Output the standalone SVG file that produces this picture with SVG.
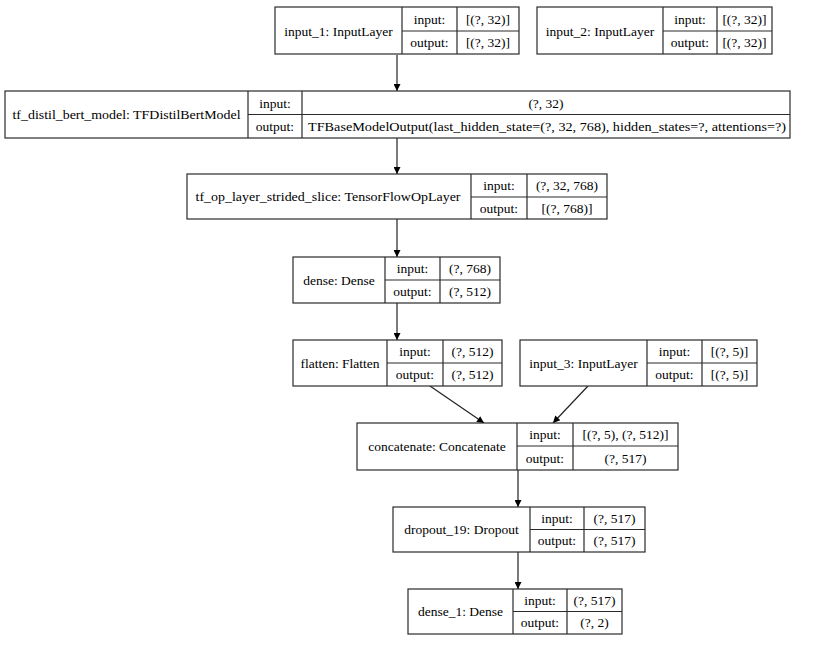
<svg xmlns="http://www.w3.org/2000/svg" width="829" height="650" viewBox="0 0 829 650">
<style>
.b{fill:#fff;stroke:#2a2a2a;stroke-width:1.2}
.l{stroke:#2a2a2a;stroke-width:1.2;fill:none}
text{font-family:"Liberation Serif","Times New Roman",serif;font-size:13.5px;fill:#000;text-anchor:middle}
.e{stroke:#222;stroke-width:1.2;fill:none;marker-end:url(#ah)}
</style>
<defs>
<marker id="ah" viewBox="0 0 10 10" refX="10" refY="5" markerWidth="10" markerHeight="7" markerUnits="userSpaceOnUse" orient="auto">
<path d="M0,0 L10,5 L0,10 z" fill="#000"/>
</marker>
</defs>
<rect width="829" height="650" fill="#fff"/>
<g id="edges">
<line class="e" x1="397" y1="55" x2="397" y2="91"/>
<line class="e" x1="397" y1="138" x2="397" y2="174"/>
<line class="e" x1="397" y1="219" x2="397" y2="257"/>
<line class="e" x1="397" y1="303" x2="397" y2="340"/>
<line class="e" x1="430" y1="386" x2="484" y2="423"/>
<line class="e" x1="588" y1="386" x2="553" y2="423"/>
<line class="e" x1="518" y1="470" x2="518" y2="507"/>
<line class="e" x1="518" y1="552" x2="518" y2="589"/>
</g>
<g id="input_1">
<rect class="b" x="275" y="7" width="244" height="47"/>
<path class="l" d="M402,7V54M457,7V54M402,31H519"/>
<text x="338.5" y="35.5">input_1: InputLayer</text>
<text x="429.5" y="23.5">input:</text>
<text x="429.5" y="47">output:</text>
<text x="488" y="23.5">[(?, 32)]</text>
<text x="488" y="47">[(?, 32)]</text>
</g>
<g id="input_2">
<rect class="b" x="537" y="7" width="235" height="47"/>
<path class="l" d="M663,7V54M717,7V54M663,31H772"/>
<text x="600" y="35.5">input_2: InputLayer</text>
<text x="690" y="23.5">input:</text>
<text x="690" y="47">output:</text>
<text x="744.5" y="23.5">[(?, 32)]</text>
<text x="744.5" y="47">[(?, 32)]</text>
</g>
<g id="tf_distil_bert_model">
<rect class="b" x="5" y="91" width="785" height="47"/>
<path class="l" d="M248,91V138M302,91V138M248,114.5H790"/>
<text x="126.5" y="119" textLength="228" lengthAdjust="spacingAndGlyphs">tf_distil_bert_model: TFDistilBertModel</text>
<text x="275" y="107.5">input:</text>
<text x="275" y="131">output:</text>
<text x="546" y="107.5">(?, 32)</text>
<text x="547" y="131" textLength="478" lengthAdjust="spacingAndGlyphs">TFBaseModelOutput(last_hidden_state=(?, 32, 768), hidden_states=?, attentions=?)</text>
</g>
<g id="tf_op_layer_strided_slice">
<rect class="b" x="187" y="174" width="420" height="45"/>
<path class="l" d="M471,174V219M527,174V219M471,197H607"/>
<text x="328" y="201" textLength="265" lengthAdjust="spacingAndGlyphs">tf_op_layer_strided_slice: TensorFlowOpLayer</text>
<text x="499" y="190">input:</text>
<text x="499" y="212.5">output:</text>
<text x="567" y="190">(?, 32, 768)</text>
<text x="567" y="212.5">[(?, 768)]</text>
</g>
<g id="dense">
<rect class="b" x="293" y="257" width="207" height="46"/>
<path class="l" d="M385,257V303M440,257V303M385,280H500"/>
<text x="339" y="284.5">dense: Dense</text>
<text x="412.5" y="273">input:</text>
<text x="412.5" y="296">output:</text>
<text x="470" y="273">(?, 768)</text>
<text x="470" y="296">(?, 512)</text>
</g>
<g id="flatten">
<rect class="b" x="293" y="340" width="209" height="46"/>
<path class="l" d="M387,340V386M443,340V386M387,363H502"/>
<text x="340" y="367.5">flatten: Flatten</text>
<text x="415" y="356">input:</text>
<text x="415" y="379">output:</text>
<text x="472.5" y="356">(?, 512)</text>
<text x="472.5" y="379">(?, 512)</text>
</g>
<g id="input_3">
<rect class="b" x="520" y="340" width="237" height="46"/>
<path class="l" d="M647,340V386M702,340V386M647,363H757"/>
<text x="583.5" y="367.5">input_3: InputLayer</text>
<text x="674.5" y="356">input:</text>
<text x="674.5" y="379">output:</text>
<text x="729.5" y="356">[(?, 5)]</text>
<text x="729.5" y="379">[(?, 5)]</text>
</g>
<g id="concatenate">
<rect class="b" x="357" y="423" width="321" height="47"/>
<path class="l" d="M517,423V470M573,423V470M517,446H678"/>
<text x="437" y="450.5">concatenate: Concatenate</text>
<text x="545" y="439">input:</text>
<text x="545" y="462.5">output:</text>
<text x="625.5" y="439">[(?, 5), (?, 512)]</text>
<text x="625.5" y="462.5">(?, 517)</text>
</g>
<g id="dropout_19">
<rect class="b" x="393" y="507" width="252" height="45"/>
<path class="l" d="M530,507V552M584,507V552M530,529.5H645"/>
<text x="461.5" y="534">dropout_19: Dropout</text>
<text x="557" y="522.5">input:</text>
<text x="557" y="545">output:</text>
<text x="614.5" y="522.5">(?, 517)</text>
<text x="614.5" y="545">(?, 517)</text>
</g>
<g id="dense_1">
<rect class="b" x="408" y="589" width="214" height="45"/>
<path class="l" d="M513,589V634M567,589V634M513,611.5H622"/>
<text x="460.5" y="616">dense_1: Dense</text>
<text x="540" y="604.5">input:</text>
<text x="540" y="627">output:</text>
<text x="594.5" y="604.5">(?, 517)</text>
<text x="594.5" y="627">(?, 2)</text>
</g>
</svg>
